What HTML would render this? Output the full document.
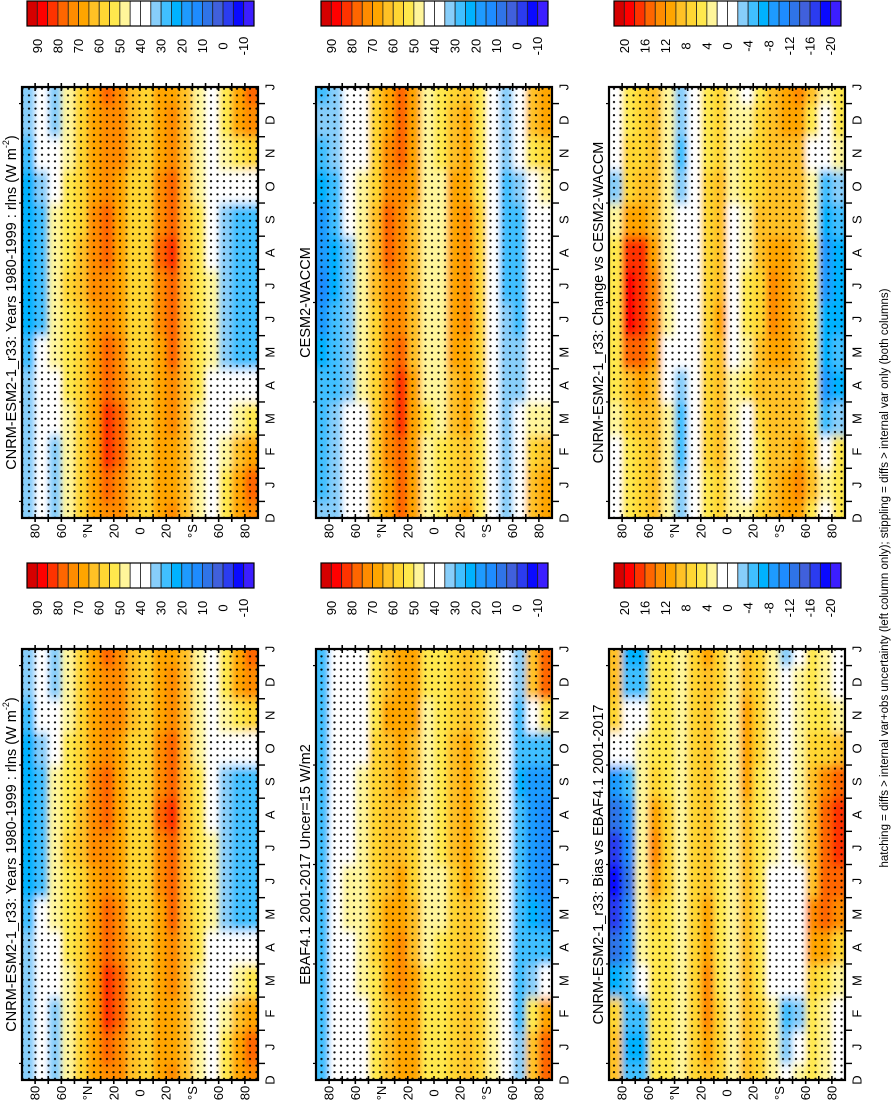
<!DOCTYPE html>
<html><head><meta charset="utf-8"><style>
html,body{margin:0;padding:0;background:#fff;}
svg{display:block;font-family:"Liberation Sans",sans-serif;}
</style></head><body>
<svg id="fig" width="895" height="1100" viewBox="0 0 895 1100" xmlns="http://www.w3.org/2000/svg">
<defs>
<filter id="soft" x="-10%" y="-10%" width="120%" height="120%"><feGaussianBlur stdDeviation="3 5"/></filter>
<pattern id="stip" width="6.5" height="6.6" patternUnits="userSpaceOnUse"><circle cx="3" cy="3" r="1.15" fill="#000"/></pattern>
</defs>
</svg>
<script>
// ---- data: latitude bands (N->S), monthly values J..D ----
const latBands = [85,75,65,55,45,35,25,15,5,-5,-15,-25,-35,-45,-55,-65,-75,-85];
const monthLabels = ["D","J","F","M","A","M","J","J","A","S","O","N","D","J"];
const latTickLabels = ["80","60","°N","20","0","20","°S","60","80"];
const latTickValues = [80,60,40,20,0,-20,-40,-60,-80];
const absTickLabels = ["90","80","70","60","50","40","30","20","10","0","-10"];
const diffTickLabels = ["20","16","12","8","4","0","-4","-8","-12","-16","-20"];

const cnrm = [
[32,32,33,34,30,24,22,22,22,24,30,32],
[38,36,38,40,37,30,28,28,28,32,38,38],
[34,34,40,44,46,48,50,50,48,45,38,34],
[48,48,50,52,53,55,56,55,53,52,50,48],
[56,57,58,59,60,60,62,61,60,58,57,56],
[66,68,70,70,70,70,72,72,72,70,68,66],
[78,82,83,80,76,74,75,76,76,75,74,75],
[74,78,78,75,72,68,66,66,68,70,72,73],
[62,64,64,62,60,58,56,56,58,60,62,62],
[60,60,60,58,58,58,58,58,60,60,60,60],
[68,68,68,68,70,72,74,76,74,72,70,68],
[70,70,72,74,76,78,80,82,80,78,74,72],
[62,62,63,64,64,64,65,65,65,64,63,62],
[48,48,50,52,53,54,55,54,52,50,48,48],
[42,42,42,44,46,46,46,45,42,42,42,42],
[52,50,44,40,34,32,32,32,34,38,46,52],
[68,62,48,38,30,28,28,28,30,38,55,66],
[76,70,55,40,30,28,28,28,30,40,60,74]];

const cesm = [
[30,30,28,26,24,18,15,17,20,24,30,32],
[33,33,32,30,28,26,25,25,28,30,32,33],
[38,38,36,34,34,33,33,34,36,38,40,40],
[42,42,44,46,48,50,50,50,48,46,44,42],
[56,58,58,58,58,60,62,62,62,60,58,56],
[70,72,72,72,72,72,74,76,76,74,72,70],
[76,80,82,82,78,74,72,72,72,74,76,76],
[66,68,68,66,64,62,62,62,64,66,66,66],
[48,50,52,50,48,46,46,46,48,50,50,48],
[52,52,50,48,46,46,48,50,50,50,52,52],
[60,60,62,64,66,66,68,70,68,66,64,62],
[64,64,66,68,70,72,72,74,72,70,68,66],
[54,54,55,56,57,58,58,58,56,55,54,54],
[44,44,44,44,44,44,44,44,42,42,42,44],
[34,34,33,32,32,32,30,30,30,30,32,34],
[38,38,36,34,32,30,30,30,30,32,36,38],
[62,58,46,40,38,38,38,38,40,44,55,62],
[70,64,50,42,40,40,40,40,42,48,60,68]];

const change = [
[0,2,4,6,6,6,6,6,4,-2,2,0],
[6,6,7,10,16,19,19,18,12,8,7,6],
[8,8,9,11,16,18,18,17,12,9,8,8],
[9,9,9,10,12,14,14,12,10,9,9,9],
[4,4,3,2,2,3,4,4,4,4,4,4],
[-3,-4,-4,-3,0,0,0,0,0,-3,-4,-3],
[1,1,1,2,1,0,0,0,1,2,2,2],
[6,7,7,8,8,8,8,7,7,7,6,6],
[8,9,10,10,10,11,10,9,9,9,8,8],
[4,3,3,4,2,0,0,0,2,4,4,4],
[2,0,0,5,4,5,6,4,3,5,5,4],
[6,5,8,9,9,8,8,10,9,8,8,7],
[10,10,10,10,11,13,13,12,10,9,9,10],
[11,10,10,10,11,12,12,11,10,10,10,11],
[14,12,10,9,9,9,9,9,10,9,10,12],
[9,8,6,6,6,6,6,6,4,4,2,6],
[4,2,-4,-8,-7,-7,-8,-8,-7,-5,0,2],
[6,6,-2,-6,-5,-6,-6,-6,-4,-2,4,6]];

const ebaf = [
[26,26,26,26,28,28,26,26,26,26,28,28],
[40,38,40,42,44,44,42,42,40,40,40,40],
[36,40,42,44,46,46,44,42,42,40,36,40],
[44,44,46,48,50,50,48,48,46,44,44,44],
[54,54,54,56,58,58,56,56,56,56,55,54],
[64,64,66,66,66,64,62,62,62,64,66,64],
[70,70,72,72,70,66,64,64,66,68,70,70],
[66,66,66,64,62,60,60,60,62,64,66,66],
[52,52,52,50,48,48,48,48,48,48,50,52],
[54,54,52,52,50,50,52,52,52,52,54,54],
[58,58,58,60,60,60,62,62,62,62,60,58],
[62,62,62,64,64,66,68,68,68,66,64,62],
[56,56,56,56,56,56,56,56,56,56,56,56],
[46,46,48,48,48,48,46,46,46,46,46,46],
[42,40,38,36,36,36,36,36,36,38,40,42],
[32,30,30,30,28,26,26,26,24,26,30,32],
[62,55,35,28,24,20,20,20,20,28,45,62],
[76,68,40,26,20,15,15,15,18,30,55,78]];

const bias = [
[10,8,-6,-12,-16,-18,-16,-12,-8,0,8,10],
[-6,-4,-4,-8,-10,-12,-10,-8,-4,0,0,-4],
[-6,-4,2,4,4,4,4,4,4,4,2,-4],
[6,6,6,6,8,12,14,12,8,6,6,6],
[6,6,6,6,6,8,8,8,6,6,6,6],
[4,4,3,3,3,3,3,3,3,3,3,4],
[7,7,7,7,8,8,7,7,7,7,7,7],
[11,13,13,12,12,10,9,9,9,9,9,10],
[7,7,6,6,6,6,6,6,6,6,6,7],
[4,4,3,3,4,4,4,4,4,4,4,4],
[9,9,9,9,9,10,10,10,11,12,12,10],
[7,7,6,6,6,6,6,6,6,7,7,7],
[4,3,2,2,2,2,3,4,4,4,3,4],
[-2,-4,0,0,0,0,0,0,0,0,0,0],
[2,-2,2,0,0,2,4,4,4,4,4,4],
[6,6,8,12,14,10,10,10,10,8,6,6],
[4,4,6,12,15,16,16,16,14,8,6,4],
[2,2,4,8,14,16,18,18,16,10,4,2]];

const palette = ["#d50000","#ff0000","#ff3300","#ff6600","#ff8c00","#ffa500","#ffc125","#ffd633","#ffe84d","#fff59a","#ffffff","#ffffff","#87cefa","#40bfff","#00b2ff","#1e9bff","#1e8cff","#2f74e8","#4060dc","#2b3cf0","#0a0aff","#3c1eff"];

const NS="http://www.w3.org/2000/svg";
const svg=document.getElementById('fig');
function mk(tag,attrs,parent){const e=document.createElementNS(NS,tag);for(const k in attrs)e.setAttribute(k,attrs[k]);(parent||svg).appendChild(e);return e;}

function colorAbs(v){let i=Math.floor((100-v)/5);i=Math.max(1,Math.min(22,i));return palette[i-1];}
function colorDiff(v){let i=Math.floor((24-v)/2);i=Math.max(1,Math.min(22,i));return palette[i-1];}

const PW=236, PH=431;
const colX=[22,316,609], rowY=[87,649];
const panels=[
 {name:'cnrm-climatology-top',data:cnrm,col:0,row:0,title:'CNRM-ESM2-1_r33: Years 1980-1999 : rlns (W m',sup:true,diff:false},
 {name:'cesm2-waccm-climatology',data:cesm,col:1,row:0,title:'CESM2-WACCM',diff:false},
 {name:'change-vs-cesm2',data:change,col:2,row:0,title:'CNRM-ESM2-1_r33: Change vs CESM2-WACCM',diff:true},
 {name:'cnrm-climatology-bottom',data:cnrm,col:0,row:1,title:'CNRM-ESM2-1_r33: Years 1980-1999 : rlns (W m',sup:true,diff:false},
 {name:'ebaf-observations',data:ebaf,col:1,row:1,title:'EBAF4.1 2001-2017 Uncer=15 W/m2',diff:false},
 {name:'bias-vs-ebaf',data:bias,col:2,row:1,title:'CNRM-ESM2-1_r33: Bias vs EBAF4.1 2001-2017',diff:true}
];

function rtext(x,y,str,size,parent,name){
  const t=mk('text',{transform:`translate(${x},${y}) rotate(-90)`,'text-anchor':'middle','dominant-baseline':'central','font-size':size,fill:'#000'},parent);
  t.textContent=str;
  
  
  return t;
}

panels.forEach((p,pi)=>{
  const x0=colX[p.col], y0=rowY[p.row];
  const xS=lat=>x0+(90-lat)*PW/180;
  const yS=k=>y0+PH-k*PH/13;
  const g=mk('g',{});
  
  
  const cp=mk('clipPath',{id:'cp'+pi},g);
  mk('rect',{x:x0,y:y0,width:PW,height:PH},cp);
  const clipG=mk('g',{'clip-path':`url(#cp${pi})`},g);
  const cells=mk('g',{filter:'url(#soft)'},clipG);
  
  
  latBands.forEach((lat,b)=>{
    let xa=xS(lat+5), xb=xS(lat-5);
    if(b===0) xa-=14; if(b===latBands.length-1) xb+=14;
    for(let k=0;k<14;k++){
      const m=(k+11)%12;
      const v=p.data[b][m];
      let ya=yS(k)-PH/26, yb=yS(k)+PH/26;
      if(k===0) yb+=16; if(k===13) ya-=16;
      const r=mk('rect',{x:xa.toFixed(2),y:ya.toFixed(2),width:(xb-xa+0.6).toFixed(2),height:(yb-ya+0.6).toFixed(2),fill:p.diff?colorDiff(v):colorAbs(v)},cells);
      
      
    }
  });
  const st=mk('rect',{x:x0,y:y0,width:PW,height:PH,fill:'url(#stip)',opacity:0.95},clipG);
  
  
  const fr=mk('rect',{x:x0,y:y0,width:PW,height:PH,fill:'none',stroke:'#000','stroke-width':2.2},g);
  
  
  for(let lat=80;lat>=-80;lat-=10){
    const x=xS(lat);
    mk('line',{x1:x,x2:x,y1:y0-4,y2:y0+4,stroke:'#000','stroke-width':1.6},g);
    mk('line',{x1:x,x2:x,y1:y0+PH-4,y2:y0+PH+4,stroke:'#000','stroke-width':1.6},g);
  }
  latTickValues.forEach((lat,i)=>{
    rtext(xS(lat),y0+PH+13,latTickLabels[i],13,g,'lat-tick-label');
  });
  for(let k=0;k<13;k++){
    const y=yS(k+0.5);
    mk('line',{x1:x0+PW,x2:x0+PW+7,y1:y,y2:y,stroke:'#000','stroke-width':1.4},g);
  }
  [3.5,6.5,9.5,12.5,0.5].forEach(kk=>{const y=yS(kk);mk('line',{x1:x0-3,x2:x0+1,y1:y,y2:y,stroke:'#000','stroke-width':1.2},g);});
  monthLabels.forEach((lab,k)=>{
    rtext(x0+PW+12,yS(k),lab,13,g,'month-tick-label');
  });
  const tx=x0-10, ty=y0+PH/2;
  const t=mk('text',{transform:`translate(${tx},${ty}) rotate(-90)`,'text-anchor':'middle','dominant-baseline':'central','font-size':14.5,fill:'#000'},g);
  
  
  t.appendChild(document.createTextNode(p.title));
  if(p.sup){
    const s=document.createElementNS(NS,'tspan');s.setAttribute('font-size','9');s.setAttribute('dy','-6');s.textContent='-2';t.appendChild(s);
    const s2=document.createElementNS(NS,'tspan');s2.setAttribute('dy','6');s2.textContent=')';t.appendChild(s2);
  }
  const cbX=x0+5, cbY=p.row===0?1:563, cbW=227, cbH=25;
  const cb=mk('g',{},svg);
  
  
  const bw=cbW/22;
  palette.forEach((c,i)=>{
    const r=mk('rect',{x:cbX+i*bw,y:cbY,width:bw,height:cbH,fill:c,stroke:'#222','stroke-width':0.8},cb);
    
    
  });
  mk('rect',{x:cbX,y:cbY,width:cbW,height:cbH,fill:'none',stroke:'#000','stroke-width':1.2},cb);
  const labs=p.diff?diffTickLabels:absTickLabels;
  labs.forEach((l,i)=>{
    rtext(cbX+(2*i+1)*bw,cbY+cbH+20,l,13,cb,'colorbar-tick-label');
  });
});

rtext(885,578,'hatching = diffs > internal var+obs uncertainty (left column only); stippling = diffs > internal var only (both columns)',11.5,svg,'footnote');
</script>
</body></html>
